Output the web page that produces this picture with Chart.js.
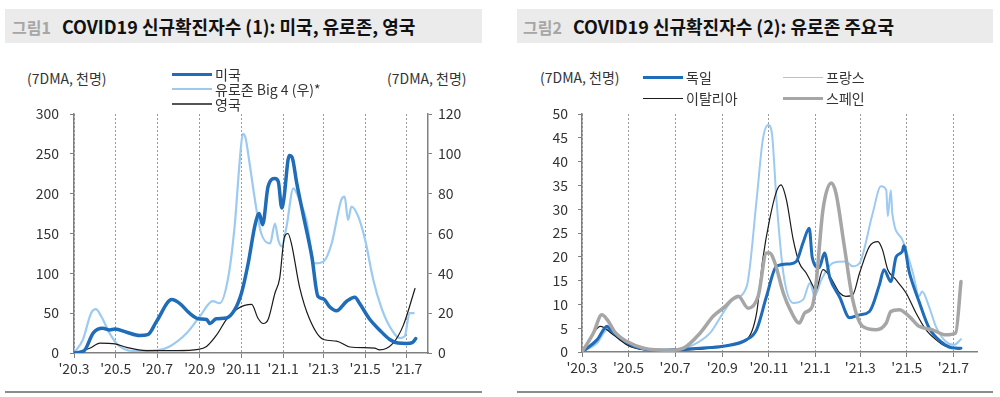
<!DOCTYPE html>
<html><head><meta charset="utf-8">
<script src="https://cdn.jsdelivr.net/npm/chart.js@4.4.1/dist/chart.umd.min.js"></script>
<style>
html,body{margin:0;padding:0;background:#fff;width:1000px;height:397px;overflow:hidden;font-family:'Noto Sans CJK KR','Noto Sans',sans-serif;}
.band{position:absolute;top:9px;height:34px;background:#ebebeb;}
.title{position:absolute;top:9px;height:34px;line-height:34px;font-size:18px;font-weight:bold;color:#111;white-space:nowrap;}
.title .fig{color:#a6a6a6;font-weight:bold;font-size:16px;margin-right:11px;}
.rule{position:absolute;top:391px;height:2px;background:#8c8c8c;}
.unit{position:absolute;font-size:14px;color:#333;white-space:nowrap;line-height:16px;}
.leg{position:absolute;font-size:14px;color:#333;white-space:nowrap;line-height:16px;display:flex;align-items:center;}
.leg i{display:inline-block;width:40px;margin-right:3px;}
.cv{position:absolute;top:0;}
</style></head>
<body>
<div class="band" style="left:5px;width:477px"></div>
<div class="title" style="left:12px"><span class="fig">그림1</span>COVID19 신규확진자수 (1): 미국, 유로존, 영국</div>
<div class="band" style="left:517px;width:476px"></div>
<div class="title" style="left:523px"><span class="fig">그림2</span>COVID19 신규확진자수 (2): 유로존 주요국</div>
<div class="rule" style="left:5px;width:477px"></div>
<div class="rule" style="left:517px;width:476px"></div>
<div class="unit" style="left:27px;top:70px">(7DMA, 천명)</div>
<div class="unit" style="left:387px;top:70px">(7DMA, 천명)</div>
<div class="unit" style="left:540px;top:69px">(7DMA, 천명)</div>
<canvas id="c1" class="cv" style="left:0" width="500" height="397"></canvas>
<canvas id="c2" class="cv" style="left:500px" width="500" height="397"></canvas>
<script>
// x = days since 2020-03-01
const tickDays = [0,61,122,184,245,306,365,426,487];
const tickLabels = ["'20.3","'20.5","'20.7","'20.9","'20.11","'21.1","'21.3","'21.5","'21.7"];

// Chart 1 (thousand persons, 7DMA)
const usDays = [0,15,28,42,52,60,77,96,108,121,143,155,169,182,194,199,208,223,235,245,255,265,271,276,284,294,299,304,307,315,319,326,335,348,357,365,374,384,399,411,418,433,447,462,474,487,495,500];
const usVals = [0,3,25,31,29,30,26,22,23,40,67,62,50,43,42,37,43,44,54,75,113,161,175,161,209,219,215,182,193,248,246,213,175,121,71,68,58,53,65,70,62,42,29,17,12.5,12,13,18];
const euDays = [0,13,25,32,40,52,64,86,121,140,165,184,203,213,225,235,243,247,251,257,267,274,287,294,299,304,311,321,330,340,352,365,377,391,396,401,406,416,426,438,450,462,477,484,491,497];
const euVals = [0,6.7,20,22,18.3,10,4.2,1,1.3,3.3,10,18.3,26,25,36.7,63.5,98.5,110,108,95,72,60,55,65,56.6,53.5,63.5,82.7,76.8,66.8,45,45.9,55,76.8,78.5,66.8,73.5,68.5,56.8,36.7,22.5,13.3,7.5,8.4,20,20];
const ukDays = [0,23,38,60,77,106,150,182,194,209,223,240,260,269,277,284,294,301,308,313,318,330,345,365,384,404,440,447,467,482,499];
const ukVals = [0,2.4,5,4.6,2.8,1.2,1.2,1.8,3.3,9.2,16.8,22.4,24.4,17.6,14.8,16.8,30,37.6,58.4,60,55.2,33.2,16.8,6.8,6,3,2.4,1.6,5,14,32.4];

// Chart 2
const deDays = [0,20,33,37,48,68,102,122,155,185,216,229,242,255,272,281,290,298,302,311,318,325,338,351,364,377,390,396,405,412,420,422,429,442,455,472,485,497];
const deVals = [0,2.6,5.4,4.7,3.3,1.2,0.35,0.5,0.8,1.2,2.6,4.7,11.7,18,18.5,19,23,26,19.8,17.7,20.8,15.6,11.5,7.2,7.8,8.5,14.1,17.3,14.8,20,21.1,22.3,16.9,10.6,5.1,2,0.9,0.8];
const frDays = [0,20,33,50,81,120,146,168,185,198,216,229,237,244,249,255,264,277,290,299,305,314,329,346,355,364,381,392,399,401,405,407,420,434,442,446,455,464,477,488,497];
const frVals = [0,1.9,4.7,2.6,0.6,0.5,1.5,4,8.2,11,13.8,32,44.5,47.7,46,32,16.6,10.3,11,14.5,11.7,15.2,18.7,19,18,18.7,29,34.8,34,28.5,34,29,23.6,16.6,11.7,12.7,9.6,5.4,2.2,1.5,2.7];
const itDays = [0,15,24,41,59,81,124,168,190,216,229,237,246,255,261,268,277,285,294,303,306,316,325,338,346,355,364,377,388,394,401,410,425,438,451,464,477,495];
const itVals = [0,4,5.4,3.6,1.5,0.5,0.35,0.8,1.4,2.6,8.2,19.4,27.8,33.7,35.1,32,23.6,18.7,16.6,13.8,12.7,17.3,15.9,12.4,11.7,12,16.6,22.2,23.2,21.5,17.3,15.5,12.4,8.2,4.7,2.6,1.2,0.6];
const esDays = [0,15,26,33,44,59,81,115,133,155,172,185,205,218,231,242,246,253,264,273,285,292,302,307,316,327,333,344,355,368,386,399,405,416,429,442,459,477,490,497];
const esVals = [0,4,7.8,6.8,4,2.2,0.8,0.35,0.8,4,7.5,9.2,11.7,9.2,11.7,20.8,20.8,18.7,12.4,8.9,6.1,8.2,9.6,14.5,29.9,35.5,33.4,22.2,11,5.4,4.7,6.1,8.5,8.9,7.5,5.4,4.7,3.6,4,14.8];

const pts = (d, v) => d.map((x, i) => ({x, y: v[i]}));
const FONT = "'Noto Sans CJK KR','Noto Sans',sans-serif";
Chart.defaults.font.family = FONT;
Chart.defaults.color = '#333';
const AX = '#808080';

function xScale(heightPx) {
  return {
    type: 'linear', min: 0, max: 518,
    afterBuildTicks: s => { s.ticks = tickDays.map(v => ({value: v})); },
    afterFit: s => { s.height = heightPx; },
    ticks: {autoSkip: false, maxRotation: 0, padding: 2, color: '#333', font: {size: 14},
      callback: (v) => { const i = tickDays.indexOf(v); return i >= 0 ? tickLabels[i] : ''; }},
    grid: {drawOnChartArea: true, color: '#9a9a9a', lineWidth: 1, drawTicks: true, tickLength: 5, tickColor: AX, tickWidth: 1},
    border: {display: true, color: AX, width: 1.5, dash: [2, 2]}
  };
}
function yScale(pos, max, step, widthPx, pad) {
  return {
    type: 'linear', position: pos, min: 0, max: max,
    afterFit: s => { s.width = widthPx; },
    ticks: {stepSize: step, padding: pad, color: '#333', font: {size: 14}},
    grid: {drawOnChartArea: false, drawTicks: true, tickLength: 4, color: AX, tickColor: AX},
    border: {display: true, color: AX, width: 1.5}
  };
}
const common = {
  responsive: false, animation: false, devicePixelRatio: 1,
  plugins: {legend: {display: false}, tooltip: {enabled: false}},
  elements: {point: {radius: 0}, line: {cubicInterpolationMode: 'monotone', borderCapStyle: 'round', borderJoinStyle: 'round'}}
};

const ds1 = [
  {label: '미국', data: pts(usDays, usVals), borderColor: '#1f6cb8', borderWidth: 3.5, yAxisID: 'y', legW: 3.5},
  {label: '영국', data: pts(ukDays, ukVals), borderColor: '#1a1a1a', borderWidth: 1.2, yAxisID: 'y1', legW: 2, legC: '#555'},
  {label: '유로존 Big 4 (우)*', data: pts(euDays, euVals), borderColor: '#9ccaf0', borderWidth: 2.2, yAxisID: 'y1', legW: 2}
];
new Chart(document.getElementById('c1'), {
  type: 'line',
  data: {datasets: ds1},
  options: Object.assign({}, common, {
    layout: {padding: {top: 114, left: 0, right: 0, bottom: 0}},
    scales: {x: xScale(44), y: yScale('left', 300, 50, 74, 11), y1: yScale('right', 120, 20, 72, 6)}
  })
});

const ds2 = [
  {label: '스페인', data: pts(esDays, esVals), borderColor: '#a6a6a6', borderWidth: 3.5, legW: 3.5},
  {label: '독일', data: pts(deDays, deVals), borderColor: '#1f6cb8', borderWidth: 3, legW: 3},
  {label: '이탈리아', data: pts(itDays, itVals), borderColor: '#1a1a1a', borderWidth: 1.2, legW: 1.2},
  {label: '프랑스', data: pts(frDays, frVals), borderColor: '#9ccaf0', borderWidth: 2, legW: 1.5}
];
new Chart(document.getElementById('c2'), {
  type: 'line',
  data: {datasets: ds2},
  options: Object.assign({}, common, {
    layout: {padding: {top: 114, left: 0, right: 23, bottom: 0}},
    scales: {x: xScale(45), y: yScale('left', 50, 5, 82, 10)}
  })
});

// HTML legends built from the datasets
function legItem(d, left, top) {
  const el = document.createElement('div');
  el.className = 'leg';
  el.style.left = left + 'px'; el.style.top = top + 'px';
  const ln = document.createElement('i');
  ln.style.borderTop = d.legW + 'px solid ' + (d.legC || d.borderColor);
  el.appendChild(ln);
  el.appendChild(document.createTextNode(d.label));
  document.body.appendChild(el);
}
const byLabel = (arr, l) => arr.find(d => d.label === l);
legItem(byLabel(ds1, '미국'), 172, 66);
legItem(byLabel(ds1, '유로존 Big 4 (우)*'), 172, 81);
legItem(byLabel(ds1, '영국'), 172, 96);
legItem(byLabel(ds2, '독일'), 643, 69);
legItem(byLabel(ds2, '프랑스'), 783, 69);
legItem(byLabel(ds2, '이탈리아'), 643, 90);
legItem(byLabel(ds2, '스페인'), 783, 90);
</script>
</body></html>
